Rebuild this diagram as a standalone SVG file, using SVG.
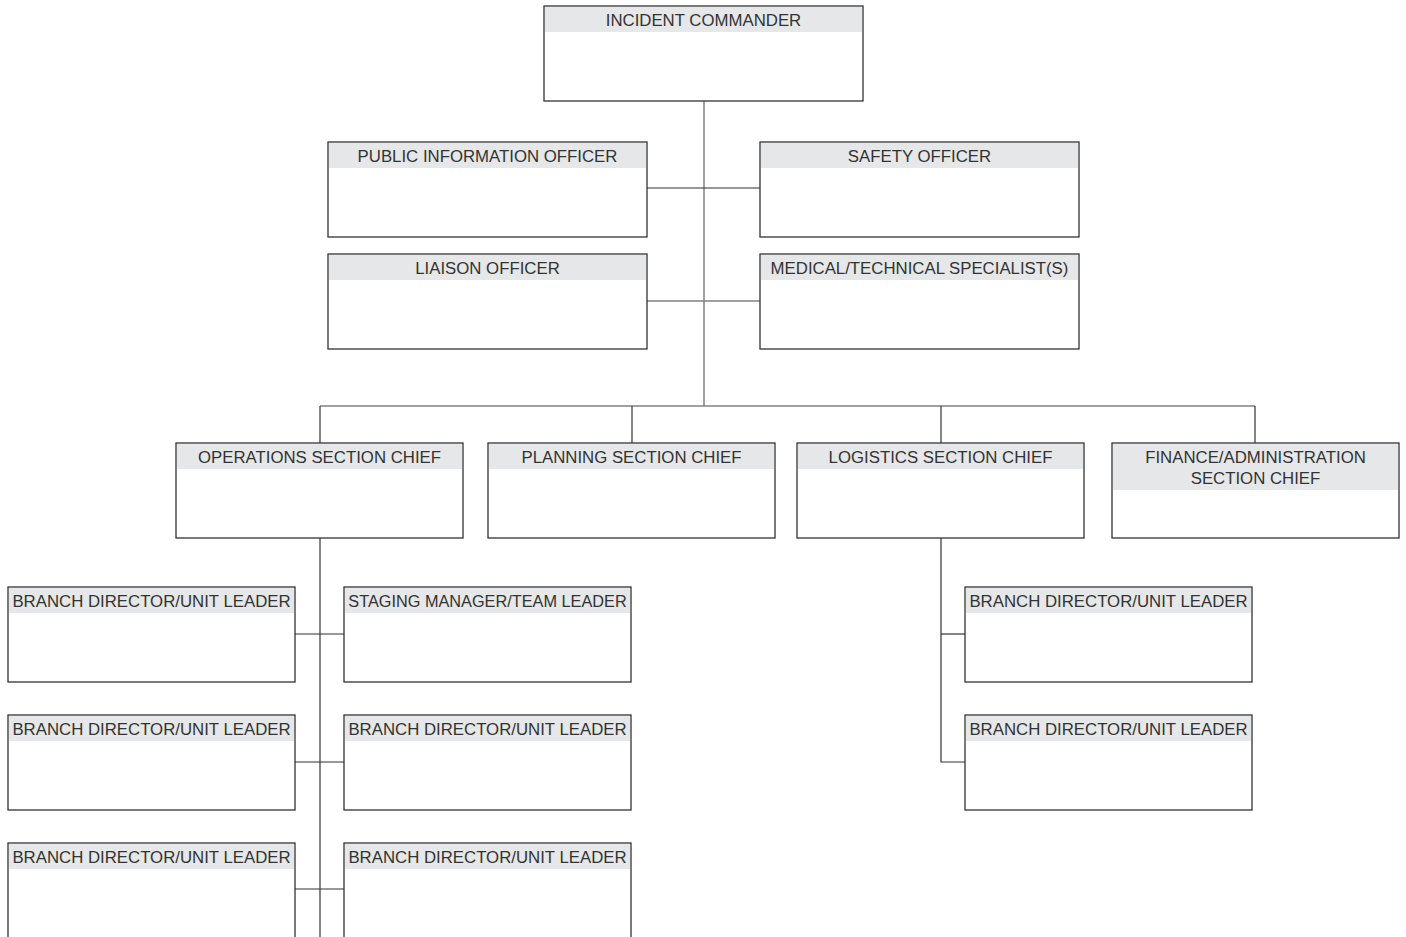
<svg xmlns="http://www.w3.org/2000/svg" width="1406" height="937" viewBox="0 0 1406 937">
  <style>
    .box { fill: #ffffff; stroke: #333333; stroke-width: 1.3; }
    .hdr { fill: #e6e7e8; }
    .lbl { font-family: "Liberation Sans", Arial, sans-serif; font-size: 16.8px; fill: #333333; text-anchor: middle; }
    .tight { font-size: 16.3px; }
    .ln { fill: none; stroke: #333333; stroke-width: 1.2; }
    .ln-g { fill: none; stroke: #808080; stroke-width: 1.5; }
  </style>
  <rect width="1406" height="937" fill="#ffffff"/>

  <!-- connectors -->
  <g id="connectors">
    <line class="ln-g" x1="704" y1="101" x2="704" y2="406"/>
    <line class="ln" x1="647" y1="188" x2="760" y2="188"/>
    <line class="ln-g" x1="647" y1="301" x2="760" y2="301"/>
    <line class="ln-g" x1="320" y1="406" x2="1255" y2="406"/>
    <line class="ln" x1="320" y1="406" x2="320" y2="443"/>
    <line class="ln" x1="632" y1="406" x2="632" y2="443"/>
    <line class="ln" x1="941" y1="406" x2="941" y2="443"/>
    <line class="ln" x1="1255" y1="406" x2="1255" y2="443"/>
    <!-- operations branch tree -->
    <line class="ln" x1="320" y1="538" x2="320" y2="937"/>
    <line class="ln" x1="295" y1="634" x2="344" y2="634"/>
    <line class="ln" x1="295" y1="762" x2="344" y2="762"/>
    <line class="ln" x1="295" y1="889" x2="344" y2="889"/>
    <!-- logistics branch tree -->
    <polyline class="ln" points="941,538 941,762 965,762"/>
    <line class="ln" x1="941" y1="634" x2="965" y2="634"/>
  </g>

  <g id="incident-commander">
    <rect class="box" x="544" y="6" width="319" height="95"/>
    <rect class="hdr" x="545" y="7" width="317" height="25"/>
    <text class="lbl" x="703.5" y="25.5">INCIDENT COMMANDER</text>
  </g>
  <g id="public-information-officer">
    <rect class="box" x="328" y="142" width="319" height="95"/>
    <rect class="hdr" x="329" y="143" width="317" height="25"/>
    <text class="lbl" x="487.5" y="161.5">PUBLIC INFORMATION OFFICER</text>
  </g>
  <g id="safety-officer">
    <rect class="box" x="760" y="142" width="319" height="95"/>
    <rect class="hdr" x="761" y="143" width="317" height="25"/>
    <text class="lbl" x="919.5" y="161.5">SAFETY OFFICER</text>
  </g>
  <g id="liaison-officer">
    <rect class="box" x="328" y="254" width="319" height="95"/>
    <rect class="hdr" x="329" y="255" width="317" height="25"/>
    <text class="lbl" x="487.5" y="273.5">LIAISON OFFICER</text>
  </g>
  <g id="medical-technical-specialists">
    <rect class="box" x="760" y="254" width="319" height="95"/>
    <rect class="hdr" x="761" y="255" width="317" height="25"/>
    <text class="lbl" x="919.5" y="273.5">MEDICAL/TECHNICAL SPECIALIST(S)</text>
  </g>

  <g id="operations-section-chief">
    <rect class="box" x="176" y="443" width="287" height="95"/>
    <rect class="hdr" x="177" y="444" width="285" height="25"/>
    <text class="lbl" x="319.5" y="462.5">OPERATIONS SECTION CHIEF</text>
  </g>
  <g id="planning-section-chief">
    <rect class="box" x="488" y="443" width="287" height="95"/>
    <rect class="hdr" x="489" y="444" width="285" height="25"/>
    <text class="lbl" x="631.5" y="462.5">PLANNING SECTION CHIEF</text>
  </g>
  <g id="logistics-section-chief">
    <rect class="box" x="797" y="443" width="287" height="95"/>
    <rect class="hdr" x="798" y="444" width="285" height="25"/>
    <text class="lbl" x="940.5" y="462.5">LOGISTICS SECTION CHIEF</text>
  </g>
  <g id="finance-administration-section-chief">
    <rect class="box" x="1112" y="443" width="287" height="95"/>
    <rect class="hdr" x="1113" y="444" width="285" height="46"/>
    <text class="lbl" x="1255.5" y="462.5">FINANCE/ADMINISTRATION</text>
    <text class="lbl" x="1255.5" y="483.5">SECTION CHIEF</text>
  </g>

  <g id="ops-branch-left-1">
    <rect class="box" x="8" y="587" width="287" height="95"/>
    <rect class="hdr" x="9" y="588" width="285" height="25"/>
    <text class="lbl" x="151.5" y="606.5">BRANCH DIRECTOR/UNIT LEADER</text>
  </g>
  <g id="ops-staging-manager">
    <rect class="box" x="344" y="587" width="287" height="95"/>
    <rect class="hdr" x="345" y="588" width="285" height="25"/>
    <text class="lbl tight" x="487.5" y="606.5">STAGING MANAGER/TEAM LEADER</text>
  </g>
  <g id="ops-branch-left-2">
    <rect class="box" x="8" y="715" width="287" height="95"/>
    <rect class="hdr" x="9" y="716" width="285" height="25"/>
    <text class="lbl" x="151.5" y="734.5">BRANCH DIRECTOR/UNIT LEADER</text>
  </g>
  <g id="ops-branch-right-2">
    <rect class="box" x="344" y="715" width="287" height="95"/>
    <rect class="hdr" x="345" y="716" width="285" height="25"/>
    <text class="lbl" x="487.5" y="734.5">BRANCH DIRECTOR/UNIT LEADER</text>
  </g>
  <g id="ops-branch-left-3">
    <rect class="box" x="8" y="843" width="287" height="120"/>
    <rect class="hdr" x="9" y="844" width="285" height="25"/>
    <text class="lbl" x="151.5" y="862.5">BRANCH DIRECTOR/UNIT LEADER</text>
  </g>
  <g id="ops-branch-right-3">
    <rect class="box" x="344" y="843" width="287" height="120"/>
    <rect class="hdr" x="345" y="844" width="285" height="25"/>
    <text class="lbl" x="487.5" y="862.5">BRANCH DIRECTOR/UNIT LEADER</text>
  </g>

  <g id="log-branch-1">
    <rect class="box" x="965" y="587" width="287" height="95"/>
    <rect class="hdr" x="966" y="588" width="285" height="25"/>
    <text class="lbl" x="1108.5" y="606.5">BRANCH DIRECTOR/UNIT LEADER</text>
  </g>
  <g id="log-branch-2">
    <rect class="box" x="965" y="715" width="287" height="95"/>
    <rect class="hdr" x="966" y="716" width="285" height="25"/>
    <text class="lbl" x="1108.5" y="734.5">BRANCH DIRECTOR/UNIT LEADER</text>
  </g>
</svg>
